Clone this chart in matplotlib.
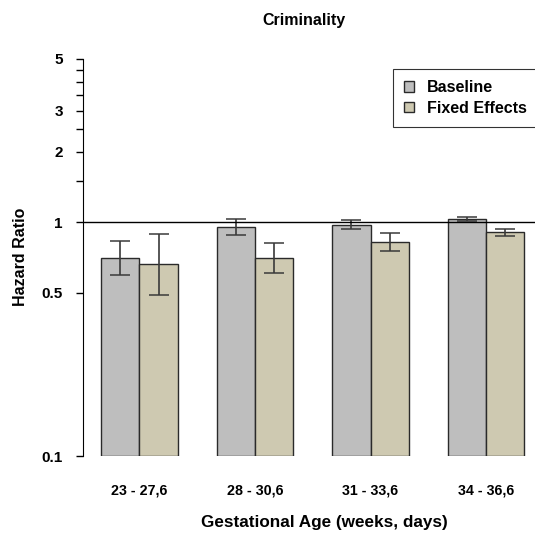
import numpy as np
import matplotlib.pyplot as plt

plt.rcParams['font.family'] = ['Liberation Sans', 'DejaVu Sans']

groups = ['23 - 27,6', '28 - 30,6', '31 - 33,6', '34 - 36,6']
baseline = [0.707, 0.952, 0.971, 1.03]
baseline_lo = [0.598, 0.880, 0.933, 1.01]
baseline_hi = [0.834, 1.033, 1.02, 1.05]
fixed = [0.660, 0.707, 0.821, 0.906]
fixed_lo = [0.491, 0.604, 0.751, 0.871]
fixed_hi = [0.888, 0.817, 0.897, 0.933]
yticks = [0.1, 0.5, 1, 1.5, 2, 2.5, 3, 3.5, 4, 4.5, 5]
ylabels = ['0.1', '0.5', '1', '', '2', '', '3', '', '', '', '5']

fig = plt.figure(figsize=(5.35, 5.37), dpi=100)
ax = fig.add_axes([83 / 535, 1 - 456 / 537, 1 - 83 / 535, (456 - 59) / 537])

x = np.arange(1, len(groups) + 1)
w = 0.333
base = 0.1
col_base = '#BEBEBE'
col_fixed = '#CEC9B1'

ax.bar(x - w / 2, np.array(baseline) - base, w, bottom=base, color=col_base,
       edgecolor='#2a2a2a', linewidth=1.0, label='Baseline')
ax.bar(x + w / 2, np.array(fixed) - base, w, bottom=base, color=col_fixed,
       edgecolor='#2a2a2a', linewidth=1.0, label='Fixed Effects')

for xs, v, lo, hi in [(x - w / 2, baseline, baseline_lo, baseline_hi),
                      (x + w / 2, fixed, fixed_lo, fixed_hi)]:
    v = np.array(v)
    err = [v - np.array(lo), np.array(hi) - v]
    ax.errorbar(xs, v, yerr=err, fmt='none', ecolor='#3a3a3a', elinewidth=1.2,
                capsize=7.2, capthick=1.1)

ax.axhline(1, color='black', linewidth=1)

ax.set_yscale('log')
ax.set_ylim(0.1, 5)
ax.set_xlim(0.511, 4.424)
ax.set_yticks(yticks)
ax.set_yticklabels(ylabels)
ax.minorticks_off()
ax.set_xticks(x)
ax.set_xticklabels(groups)
ax.tick_params(axis='x', length=0, pad=20)
ax.tick_params(axis='y', length=5, width=1, pad=9.5)
for lab in ax.get_xticklabels():
    lab.set_fontsize(10.3)
    lab.set_fontweight('bold')
for lab in ax.get_yticklabels():
    lab.set_fontsize(11)
    lab.set_fontweight('bold')

for s in ['top', 'right', 'bottom']:
    ax.spines[s].set_visible(False)
ax.spines['left'].set_bounds(0.1, 5)

fig.text(21 / 535, 1 - 257 / 537, 'Hazard Ratio', rotation=90, ha='center',
         va='center', fontsize=11.5, fontweight='bold')
fig.text(324 / 535, 1 - 523 / 537, 'Gestational Age (weeks, days)', ha='center',
         va='center', fontsize=12.3, fontweight='bold')
fig.text(304 / 535, 1 - 20 / 537, 'Criminality', ha='center', va='center',
         fontsize=11.5, fontweight='bold')

leg = ax.legend(loc='upper left', bbox_to_anchor=(393 / 535, 1 - 69 / 537),
                bbox_transform=fig.transFigure, frameon=True, fancybox=False,
                prop={'weight': 'bold', 'size': 11.5}, handlelength=0.63,
                handleheight=0.63, borderpad=0.7, labelspacing=0.35,
                handletextpad=0.8, borderaxespad=0)
leg.get_frame().set_edgecolor('black')
leg.get_frame().set_linewidth(0.8)

fig.savefig('out.png', dpi=100)
